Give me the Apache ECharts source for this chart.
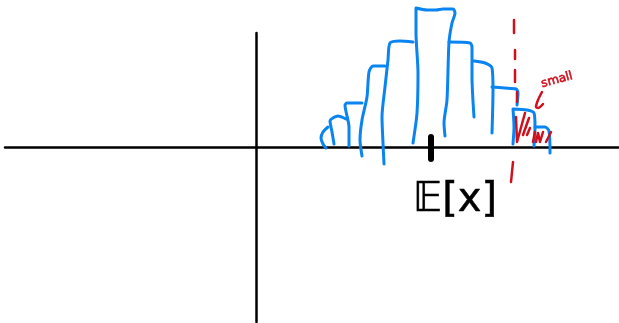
<!DOCTYPE html>
<html>
<head>
<meta charset="utf-8">
<style>
  html, body { margin: 0; padding: 0; background: #fff; }
  #main { width: 619px; height: 323px; }
</style>
<script src="https://cdn.jsdelivr.net/npm/echarts@6/dist/echarts.min.js"></script>
</head>
<body>
<div id="main"></div>
<script>
const barStrokes = [
  [[72, 20], [67, 15], [65, 9], [67, 3], [70, -1]],
  [[78, 3], [76, 15], [74, 26], [82, 31], [90, 28]],
  [[93, 1], [93, 20], [89, 42], [91, 44], [106, 44]],
  [[106, -9], [104, 7], [106, 27], [111, 50], [113, 75], [117, 81], [129, 81]],
  [[128, -17], [127, 4], [126, 30], [129, 60], [132, 87], [134, 104], [144, 106], [157, 105]],
  [[157, 4], [161, 34], [162, 74], [160, 114], [160, 139], [171, 137], [180, 137], [187, 138], [197, 138], [199, 134], [196, 124], [193, 105], [191, 47], [188, 24], [189, 11]],
  [[193, 105], [214, 104], [216, 100], [216, 70], [218, 30]],
  [[218, 86], [229, 84], [236, 79], [237, 57], [236, 14]],
  [[236, 60], [249, 59], [260, 58], [262, 54], [261, 42]],
  [[257, 3], [258, 20], [257, 38], [271, 37], [278, 34], [279, 20], [278, 1]],
  [[279, 20], [289, 20], [293, 16], [294, -6]]
]
const cutoffDashes = [
  [[258, 127], [258, 114]],
  [[259, 97], [259, 88]],
  [[259, 77], [259, 65]],
  [[261, 55], [261, 45]],
  [[257, -15], [255, -35]]
]
const tailHatching = [
  [[260, 30], [261, 5], [269, 34]],
  [[273, 29], [267, 12]],
  [[274, 19], [271, 12]],
  [[277, 5], [279, 15]],
  [[280, 5], [282, 14], [284, 5], [287, 15]],
  [[290, 5], [295, 15]]
]
const arrowStroke = [[286, 55], [282, 47], [280, 40], [282, 39], [287, 43]]
const meanTick = [[175, 10], [175, -12]]
const meanLabel = '𝔼[x]'
const meanLabelAt = [199, -54]
const tailLabel = 'small'
const tailLabelAt = [301, 67]

const stroke = (data, color, width, smooth) => ({
  type: 'line',
  data,
  clip: false,
  silent: true,
  symbol: 'none',
  smooth,
  lineStyle: { color, width, cap: 'round', join: 'round' }
})

const textAt = (at, text, color, size, rotate, border) => ({
  type: 'scatter',
  data: [at],
  clip: false,
  silent: true,
  symbolSize: 0,
  // scatter defaults to 0.8 opacity, the label picks that up too
  itemStyle: { opacity: 1 },
  label: {
    show: true,
    position: 'inside',
    formatter: text,
    color,
    opacity: 1,
    fontSize: size,
    rotate,
    fontFamily: 'DejaVu Sans',
    textBorderColor: color,
    textBorderWidth: border
  }
})

const chart = echarts.init(document.getElementById('main'))
chart.setOption({
  animation: false,
  backgroundColor: '#fff',
  grid: { left: 5, right: 0, top: 33, bottom: 1 },
  xAxis: {
    type: 'value',
    min: -251,
    max: 363,
    axisLine: { show: true, lineStyle: { color: '#000', width: 2.5 } },
    axisTick: { show: false },
    axisLabel: { show: false },
    splitLine: { show: false }
  },
  yAxis: {
    type: 'value',
    min: -175,
    max: 114,
    axisLine: { show: true, lineStyle: { color: '#000', width: 2.5 } },
    axisTick: { show: false },
    axisLabel: { show: false },
    splitLine: { show: false }
  },
  series: [
    ...barStrokes.map(s => stroke(s, '#0a84f0', 3, 0.25)),
    ...tailHatching.map(s => stroke(s, '#d0101c', 2.5, 0)),
    ...cutoffDashes.map(s => stroke(s, '#d0101c', 2.5, 0)),
    stroke(arrowStroke, '#d0101c', 2.5, 0.3),
    stroke(meanTick, '#000', 6, 0),
    textAt(meanLabelAt, meanLabel, '#000', 40, 0, 0.5),
    textAt(tailLabelAt, tailLabel, '#d0101c', 12, 15, 0.6)
  ]
})
</script>
</body>
</html>
